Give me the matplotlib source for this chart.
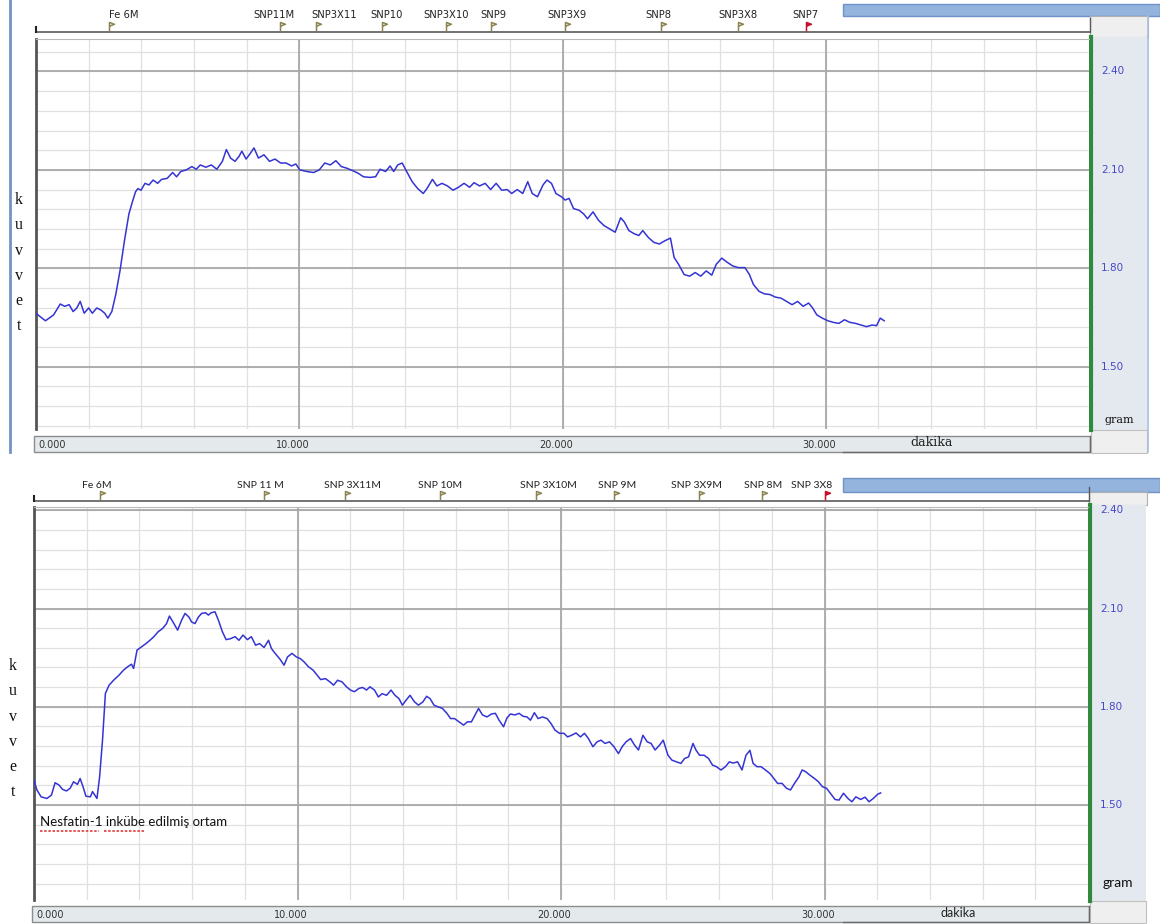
import numpy as np
import matplotlib.pyplot as plt
from matplotlib import transforms
from matplotlib.patches import Rectangle

W, H = 1160, 924

# top recording: time (dakika) and force (gram)
t1 = [0.00, 0.15, 0.36, 0.67, 0.92, 1.09, 1.26, 1.41, 1.55, 1.68, 1.83, 2.00, 2.14, 2.31, 2.46, 2.61, 2.73, 2.88,
      3.03, 3.19, 3.36, 3.53, 3.66, 3.78, 3.87, 3.99, 4.14, 4.29, 4.45, 4.62, 4.77, 4.98, 5.19, 5.34, 5.50, 5.71,
      5.92, 6.09, 6.24, 6.45, 6.66, 6.87, 7.08, 7.23, 7.39, 7.56, 7.71, 7.82, 7.98, 8.13, 8.28, 8.45, 8.66, 8.87,
      9.08, 9.29, 9.50, 9.71, 9.87, 10.02, 10.29, 10.55, 10.76, 10.97, 11.18, 11.39, 11.60, 11.81, 12.02, 12.23,
      12.44, 12.69, 12.90, 13.07, 13.28, 13.45, 13.59, 13.74, 13.91, 14.08, 14.29, 14.50, 14.71, 14.85, 15.06,
      15.23, 15.42, 15.63, 15.84, 16.05, 16.26, 16.47, 16.64, 16.85, 17.06, 17.27, 17.48, 17.69, 17.90, 18.07,
      18.28, 18.49, 18.68, 18.85, 19.05, 19.26, 19.41, 19.58, 19.75, 19.96, 20.10, 20.25, 20.42, 20.63, 20.80,
      20.95, 21.16, 21.37, 21.58, 21.79, 22.00, 22.21, 22.35, 22.52, 22.73, 22.90, 23.05, 23.26, 23.47, 23.68,
      23.89, 24.10, 24.24, 24.41, 24.62, 24.83, 25.04, 25.25, 25.46, 25.67, 25.84, 26.05, 26.26, 26.47, 26.68,
      26.93, 27.10, 27.25, 27.46, 27.67, 27.88, 28.09, 28.30, 28.51, 28.72, 28.93, 29.14, 29.35, 29.50, 29.66,
      29.87, 30.08, 30.29, 30.50, 30.71, 30.92, 31.13, 31.34, 31.55, 31.76, 31.93, 32.07, 32.22]
g1 = [1.663, 1.653, 1.640, 1.658, 1.691, 1.684, 1.689, 1.668, 1.679, 1.699, 1.663, 1.679, 1.663, 1.679, 1.673,
      1.663, 1.648, 1.668, 1.720, 1.792, 1.884, 1.966, 2.002, 2.033, 2.043, 2.038, 2.059, 2.054, 2.069, 2.059,
      2.071, 2.074, 2.092, 2.079, 2.095, 2.100, 2.110, 2.102, 2.115, 2.108, 2.115, 2.102, 2.126, 2.162, 2.136,
      2.126, 2.141, 2.157, 2.133, 2.149, 2.167, 2.136, 2.146, 2.126, 2.133, 2.121, 2.121, 2.112, 2.118, 2.100,
      2.095, 2.092, 2.100, 2.121, 2.115, 2.128, 2.110, 2.105, 2.098, 2.090, 2.079, 2.077, 2.079, 2.102, 2.095,
      2.112, 2.095, 2.115, 2.121, 2.095, 2.064, 2.043, 2.028, 2.043, 2.071, 2.051, 2.059, 2.051, 2.038, 2.047,
      2.059, 2.047, 2.061, 2.051, 2.059, 2.040, 2.059, 2.038, 2.040, 2.028, 2.040, 2.028, 2.064, 2.028, 2.018,
      2.054, 2.069, 2.059, 2.028, 2.018, 2.008, 2.013, 1.982, 1.977, 1.966, 1.951, 1.972, 1.946, 1.930, 1.920,
      1.910, 1.954, 1.941, 1.915, 1.905, 1.900, 1.915, 1.894, 1.879, 1.874, 1.884, 1.892, 1.833, 1.812, 1.781,
      1.776, 1.787, 1.776, 1.792, 1.779, 1.812, 1.831, 1.818, 1.807, 1.802, 1.802, 1.781, 1.751, 1.730, 1.722,
      1.720, 1.712, 1.709, 1.699, 1.689, 1.699, 1.684, 1.694, 1.679, 1.658, 1.648, 1.640, 1.635, 1.632, 1.643,
      1.635, 1.632, 1.627, 1.622, 1.627, 1.625, 1.648, 1.640]
marks1 = ["Fe 6M", "SNP11M", "SNP3X11", "SNP10", "SNP3X10", "SNP9", "SNP3X9", "SNP8", "SNP3X8", "SNP7"]
mark_t1 = [2.77, 9.27, 10.63, 13.14, 15.57, 17.28, 20.09, 23.74, 26.66, 29.24]

# bottom recording (Nesfatin-1 incubated)
t2 = [0.00, 0.11, 0.27, 0.49, 0.66, 0.80, 0.95, 1.08, 1.23, 1.37, 1.50, 1.65, 1.75, 1.86, 1.97, 2.14, 2.22, 2.39,
      2.49, 2.60, 2.71, 2.85, 3.02, 3.23, 3.40, 3.55, 3.70, 3.78, 3.91, 4.08, 4.25, 4.40, 4.55, 4.71, 4.88, 5.03,
      5.14, 5.31, 5.45, 5.60, 5.73, 5.88, 5.98, 6.11, 6.24, 6.36, 6.51, 6.62, 6.72, 6.87, 7.00, 7.15, 7.29, 7.46,
      7.63, 7.78, 7.93, 8.10, 8.25, 8.41, 8.56, 8.73, 8.90, 9.01, 9.15, 9.32, 9.49, 9.62, 9.79, 9.96, 10.11, 10.25,
      10.42, 10.59, 10.74, 10.88, 11.06, 11.23, 11.37, 11.52, 11.69, 11.86, 12.01, 12.16, 12.33, 12.47, 12.62,
      12.75, 12.92, 13.07, 13.21, 13.38, 13.55, 13.70, 13.85, 13.98, 14.12, 14.27, 14.44, 14.59, 14.76, 14.90,
      15.03, 15.18, 15.33, 15.50, 15.67, 15.81, 15.96, 16.13, 16.30, 16.45, 16.60, 16.77, 16.87, 17.02, 17.19,
      17.36, 17.51, 17.65, 17.82, 17.95, 18.08, 18.25, 18.41, 18.56, 18.71, 18.84, 18.99, 19.13, 19.30, 19.47,
      19.62, 19.77, 19.94, 20.11, 20.25, 20.40, 20.57, 20.74, 20.89, 21.04, 21.21, 21.37, 21.52, 21.67, 21.84,
      22.01, 22.18, 22.32, 22.47, 22.64, 22.79, 22.94, 23.11, 23.27, 23.42, 23.57, 23.74, 23.88, 24.06, 24.21,
      24.38, 24.55, 24.69, 24.84, 25.01, 25.12, 25.26, 25.43, 25.60, 25.75, 25.90, 26.07, 26.24, 26.39, 26.53,
      26.70, 26.87, 27.02, 27.17, 27.29, 27.44, 27.59, 27.76, 27.93, 28.08, 28.22, 28.39, 28.56, 28.71, 28.86,
      29.03, 29.15, 29.28, 29.45, 29.62, 29.77, 29.92, 30.08, 30.25, 30.40, 30.55, 30.72, 30.89, 31.04, 31.19,
      31.37, 31.54, 31.69, 31.85, 32.02, 32.13]
g2 = [1.576, 1.546, 1.525, 1.520, 1.530, 1.568, 1.561, 1.548, 1.543, 1.551, 1.571, 1.563, 1.581, 1.556, 1.527,
      1.525, 1.541, 1.520, 1.586, 1.698, 1.841, 1.866, 1.881, 1.897, 1.912, 1.922, 1.930, 1.917, 1.973, 1.983,
      1.993, 2.003, 2.014, 2.029, 2.039, 2.054, 2.077, 2.054, 2.034, 2.064, 2.085, 2.074, 2.059, 2.054, 2.074,
      2.085, 2.087, 2.080, 2.087, 2.090, 2.064, 2.029, 2.005, 2.008, 2.014, 2.003, 2.019, 2.005, 2.014, 1.988,
      1.993, 1.981, 2.003, 1.978, 1.963, 1.947, 1.927, 1.952, 1.963, 1.952, 1.947, 1.937, 1.922, 1.912, 1.897,
      1.883, 1.886, 1.876, 1.866, 1.881, 1.876, 1.861, 1.851, 1.846, 1.856, 1.859, 1.851, 1.861, 1.851, 1.830,
      1.840, 1.835, 1.851, 1.835, 1.825, 1.805, 1.820, 1.835, 1.815, 1.805, 1.815, 1.832, 1.825, 1.805, 1.800,
      1.795, 1.780, 1.764, 1.764, 1.754, 1.744, 1.754, 1.754, 1.780, 1.795, 1.775, 1.769, 1.778, 1.780, 1.759,
      1.739, 1.766, 1.778, 1.775, 1.780, 1.771, 1.769, 1.759, 1.782, 1.764, 1.769, 1.764, 1.749, 1.729, 1.719,
      1.719, 1.708, 1.713, 1.720, 1.708, 1.719, 1.703, 1.678, 1.693, 1.698, 1.688, 1.693, 1.678, 1.657, 1.678,
      1.693, 1.703, 1.683, 1.668, 1.713, 1.693, 1.688, 1.668, 1.683, 1.698, 1.652, 1.637, 1.632, 1.627, 1.642,
      1.647, 1.688, 1.668, 1.652, 1.652, 1.642, 1.622, 1.617, 1.607, 1.617, 1.632, 1.628, 1.632, 1.607, 1.652,
      1.667, 1.627, 1.617, 1.617, 1.607, 1.596, 1.581, 1.566, 1.566, 1.551, 1.546, 1.566, 1.586, 1.607, 1.602,
      1.591, 1.581, 1.571, 1.556, 1.551, 1.533, 1.517, 1.515, 1.536, 1.520, 1.510, 1.525, 1.517, 1.524, 1.510,
      1.520, 1.533, 1.537]
marks2 = ["Fe 6M", "SNP 11 M", "SNP 3X11M", "SNP 10M", "SNP 3X10M", "SNP 9M", "SNP 3X9M", "SNP 8M", "SNP 3X8"]
mark_t2 = [2.50, 8.71, 11.82, 15.42, 19.05, 22.01, 25.23, 27.61, 30.00]

gram_ticks = [1.50, 1.80, 2.10, 2.40]
gram_labels = ["1.50", "1.80", "2.10", "2.40"]
time_ticks = [0, 10, 20, 30]
time_labels = ["0.000", "10.000", "20.000", "30.000"]

TRACE = '#3434d4'
FLAG = [(0, 0), (0, 1), (0.55, 0.8), (0, 0.6)]

fig = plt.figure(figsize=(W / 100, H / 100), dpi=100)
bg = fig.add_axes([0, 0, 1, 1])
bg.set_xlim(0, W)
bg.set_ylim(H, 0)
bg.axis('off')


def draw_panel(box, ylim, t, g, names, times, lay):
    x0, y0, x1, y1 = box
    ax = fig.add_axes([x0 / W, 1 - y1 / H, (x1 - x0) / W, (y1 - y0) / H])
    ax.set_xlim(0, 40)
    ax.set_ylim(*ylim)
    ax.set_xticks([])
    ax.set_yticks([])

    # grid: fine every 2 min / 0.06 g, heavy every 10 min / 0.3 g
    for v in np.arange(2, 40, 2):
        ax.axvline(v, color='#e0e0e0', lw=0.9, zorder=1)
    for v in np.arange(1.14, 2.5, 0.06):
        ax.axhline(v, color='#e0e0e0', lw=0.9, zorder=1)
    for v in time_ticks[1:]:
        ax.axvline(v, color='#a8a8a8', lw=1.3, zorder=2)
    for v in gram_ticks:
        ax.axhline(v, color='#a8a8a8', lw=1.3, zorder=2)
    ax.plot(t, g, color=TRACE, lw=1.1, zorder=3)

    for s in ['right', 'bottom']:
        ax.spines[s].set_visible(False)
    ax.spines['top'].set_color('#b8b8b8')
    ax.spines['left'].set_color('#555555')
    ax.spines['left'].set_linewidth(2)

    tx = transforms.blended_transform_factory(ax.transData, bg.transData)
    ty = transforms.blended_transform_factory(bg.transData, ax.transData)

    # event marker strip
    ly = lay['lead_y']
    bg.plot([x0, x1 + 1], [ly, ly], color='#5a5a5a', lw=1.2)
    bg.plot([x1 + 1, x1 + 1], [ly, ly - 14], color='#5a5a5a', lw=1.0)
    bg.plot([x0, x0], [ly, ly - 5], color='#222222', lw=1.5)
    for i, (nm, tm) in enumerate(zip(names, times)):
        last = i == len(names) - 1
        bg.plot(tm, ly - 1, marker=FLAG, ms=13, transform=tx,
                mfc='#c8102e' if last else 'none',
                mec='#c8102e' if last else '#8c8450', mew=1.1)
        lab_tr = tx + transforms.ScaledTranslation(lay['nudge'][i] / 100, 0, fig.dpi_scale_trans)
        bg.text(tm, lay['text_y'], nm, transform=lab_tr, ha='center', va='center',
                fontsize=lay['mark_fs'], family=lay['mark_font'], color='#222222')

    # blue title bar and grey corner box
    bg.add_patch(Rectangle((843, lay['blue'][0]), W - 843, lay['blue'][1] - lay['blue'][0],
                           facecolor='#94b3dd', edgecolor='#6f93c8', lw=1))
    bg.add_patch(Rectangle((x1 + 1, lay['blue'][1]), 58, y0 - lay['blue'][1] - 2,
                           facecolor='#efefef', edgecolor='#b0b0b0', lw=0.8))

    # gram scale panel on the right
    bg.add_patch(Rectangle((x1 + 1, y0 - 2), 57, y1 - y0 + 3, facecolor='#e3e9ee', edgecolor='none'))
    bg.plot([x1 + 2, x1 + 2], [y0 - 2, y1 + 1], color='#2f8a3e', lw=3)
    for v, s in zip(gram_ticks, gram_labels):
        bg.text(x1 + 12, v, s, transform=ty, ha='left', va='center', fontsize=7.5,
                family='DejaVu Sans', color='#4848c8')
    bg.text(x1 + 30, lay['gram_y'], 'gram', ha='center', va='center',
            fontsize=lay['gram_fs'], family=lay['gram_font'], color='#111111')

    # time axis bar
    by0, by1 = lay['bar']
    bg.add_patch(Rectangle((x0 - 2, by0), x1 - x0 + 3, by1 - by0,
                           facecolor='#e4eaec', edgecolor='#8c8c8c', lw=1))
    for v, s in zip(time_ticks, time_labels):
        bg.text(v - 0.25 if v else 0.1, (by0 + by1) / 2 + 1, s, transform=tx,
                ha='center' if v else 'left', va='center', fontsize=7, family='DejaVu Sans', color='#333333')
    bg.plot([843, x1 + 1, x1 + 1], [by1, by1, by0], color='#6a6a6a', lw=1)
    bg.text(lay['dakika_x'], (by0 + by1) / 2 - 1, 'dakika', ha='center', va='center',
            fontsize=9, family=lay['gram_font'], color='#222222')
    bg.add_patch(Rectangle((x1 + 2, y1 + 1), 56, by1 - y1, facecolor='#efefef', edgecolor='#c0c0c0', lw=0.8))

    # "kuvvet" written letter by letter
    for i, ch in enumerate('kuvvet'):
        bg.text(lay['kuv_x'], lay['kuv_y'] + i * 25.3, ch, ha='center', va='center',
                fontsize=11.5, family='Liberation Serif', color='#111111')
    return ax


draw_panel((36, 39, 1089, 429), (1.31, 2.499), t1, g1, marks1, mark_t1,
           dict(lead_y=32, text_y=15, mark_fs=7.2, mark_font='DejaVu Sans', blue=(4, 16),
                nudge=[15, -6, 18, 5, 0, 3, 2, -3, 0, 0],
                gram_y=420, gram_fs=8, gram_font='DejaVu Serif', bar=(436, 452), dakika_x=932,
                kuv_x=19, kuv_y=200))
draw_panel((34, 507, 1088, 900), (1.21, 2.41), t2, g2, marks2, mark_t2,
           dict(lead_y=501, text_y=486, mark_fs=7.5, mark_font='Lato', blue=(478, 492),
                nudge=[-3, -3, 7, 0, 12, 3, -2, 2, -13],
                gram_y=883, gram_fs=10, gram_font='Lato', bar=(906, 922), dakika_x=958,
                kuv_x=13, kuv_y=666))

# overlay for things that sit on top of the plots
top = fig.add_axes([0, 0, 1, 1])
top.set_xlim(0, W)
top.set_ylim(H, 0)
top.axis('off')
top.patch.set_alpha(0)

# window borders of the first screenshot
top.plot([10, 10], [0, 452], color='#7393c4', lw=2)
top.plot([1148, 1148], [16, 452], color='#a9bfdc', lw=1.2)

# caption inside the second recording
top.text(40, 822, 'Nesfatin-1 inkübe edilmiş ortam', ha='left', va='center',
         fontsize=9.5, family='Lato', color='#111111')
top.plot([40, 99], [831, 831], color='#e03a3a', lw=1.2, ls=(0, (1.5, 1)))
top.plot([104, 144], [831, 831], color='#e03a3a', lw=1.2, ls=(0, (1.5, 1)))

fig.savefig('out.png', dpi=100)
